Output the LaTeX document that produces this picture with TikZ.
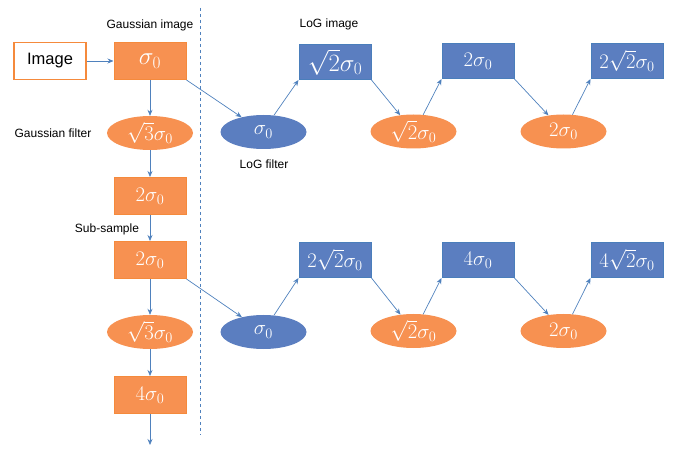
\documentclass[tikz,border=0pt]{standalone}
\usepackage{fontspec}
\setmainfont{Liberation Sans}
\usetikzlibrary{shapes.geometric,arrows.meta}
\definecolor{orfill}{HTML}{F79151}
\definecolor{ordraw}{HTML}{F58A3C}
\definecolor{blfill}{HTML}{5B7EC0}
\definecolor{bldraw}{HTML}{4A7EBB}
\definecolor{arr}{HTML}{4F81BD}
\tikzset{
  mtext/.style={text=white,font=\fontsize{20}{22}\selectfont},
  big/.style={font=\fontsize{23}{25}\selectfont},
  obox/.style={mtext,draw=ordraw,fill=orfill,line width=1pt,minimum width=72pt,minimum height=37pt,inner sep=0pt},
  bbox/.style={mtext,draw=bldraw,fill=blfill,line width=1pt,minimum width=72pt,minimum height=35pt,inner sep=0pt},
  oell/.style={mtext,ellipse,fill=orfill,minimum width=86pt,minimum height=34pt,inner sep=0pt},
  bell/.style={mtext,ellipse,fill=blfill,minimum width=86pt,minimum height=34pt,inner sep=0pt},
  lab/.style={font=\fontsize{12}{14}\selectfont,text=black,inner sep=0pt},
  con/.style={draw=arr,line width=0.7pt,-{Stealth[length=6pt,width=5pt]}},
}
\begin{document}
\begin{tikzpicture}[x=1pt,y=-1pt]
\useasboundingbox (0,0) rectangle (686,449);
% dashed divider
\draw[arr,dashed,line width=0.7pt] (200,8) -- (200,435);
% left column
\node[draw=ordraw,line width=1.6pt,fill=white,minimum width=72pt,minimum height=37pt,inner sep=0pt,font=\fontsize{16.5}{18}\selectfont] (img) at (50,61) {Image};
\node[obox,big] (g0) at (150,61) {$\sigma_0$};
\node[oell] (f1) at (150,133) {$\sqrt{3}\sigma_0$};
\node[obox] (g1) at (150,196) {$2\sigma_0$};
\node[obox] (g2) at (150,260) {$2\sigma_0$};
\node[oell] (f2) at (150,332) {$\sqrt{3}\sigma_0$};
\node[obox] (g3) at (150,395) {$4\sigma_0$};
\coordinate (end) at (150,445);
% labels
\node[lab] (lgi) at (150,25) {Gaussian image};
\node[lab] (lgf) at (53,133) {Gaussian filter};
\node[lab] (lss) at (107,229) {Sub-sample};
\node[lab] (llf) at (264,164) {LoG filter};
\node[lab] (lli) at (329,24) {LoG image};
% row 1
\node[bell] (b1) at (263.5,132) {$\sigma_0$};
\node[bbox,big] (l1) at (335,62) {$\sqrt{2}\sigma_0$};
\node[oell] (o1) at (413.5,131.5) {$\sqrt{2}\sigma_0$};
\node[bbox] (l2) at (478,61) {$2\sigma_0$};
\node[oell] (o2) at (563.5,131.5) {$2\sigma_0$};
\node[bbox] (l3) at (627,61) {$2\sqrt{2}\sigma_0$};
% row 2
\node[bell] (b2) at (263.5,332) {$\sigma_0$};
\node[bbox,font=\fontsize{22}{24}\selectfont] (m1) at (335,260) {$2\sqrt{2}\sigma_0$};
\node[oell] (p1) at (413.5,331) {$\sqrt{2}\sigma_0$};
\node[bbox] (m2) at (478,260) {$4\sigma_0$};
\node[oell] (p2) at (563.5,331) {$2\sigma_0$};
\node[bbox] (m3) at (627,260) {$4\sqrt{2}\sigma_0$};
% connectors left column
\draw[con] (img) -- (g0);
\draw[con] (g0) -- (f1);
\draw[con] (f1) -- (g1);
\draw[con] (g1) -- (g2);
\draw[con] (g2) -- (f2);
\draw[con] (f2) -- (g3);
\draw[con] (g3) -- (end);
% row 1 connectors
\draw[con] (g0.south east) -- (b1);
\draw[con] (b1.58) -- (l1.south west);
\draw[con] (l1.south east) -- (o1);
\draw[con] (o1.60) -- (l2.south west);
\draw[con] (l2.south east) -- (o2);
\draw[con] (o2.62) -- (l3.south west);
% row 2 connectors
\draw[con] (g2.south east) -- (b2);
\draw[con] (b2.58) -- (m1.south west);
\draw[con] (m1.south east) -- (p1);
\draw[con] (p1.60) -- (m2.south west);
\draw[con] (m2.south east) -- (p2);
\draw[con] (p2.62) -- (m3.south west);
\end{tikzpicture}
\end{document}
